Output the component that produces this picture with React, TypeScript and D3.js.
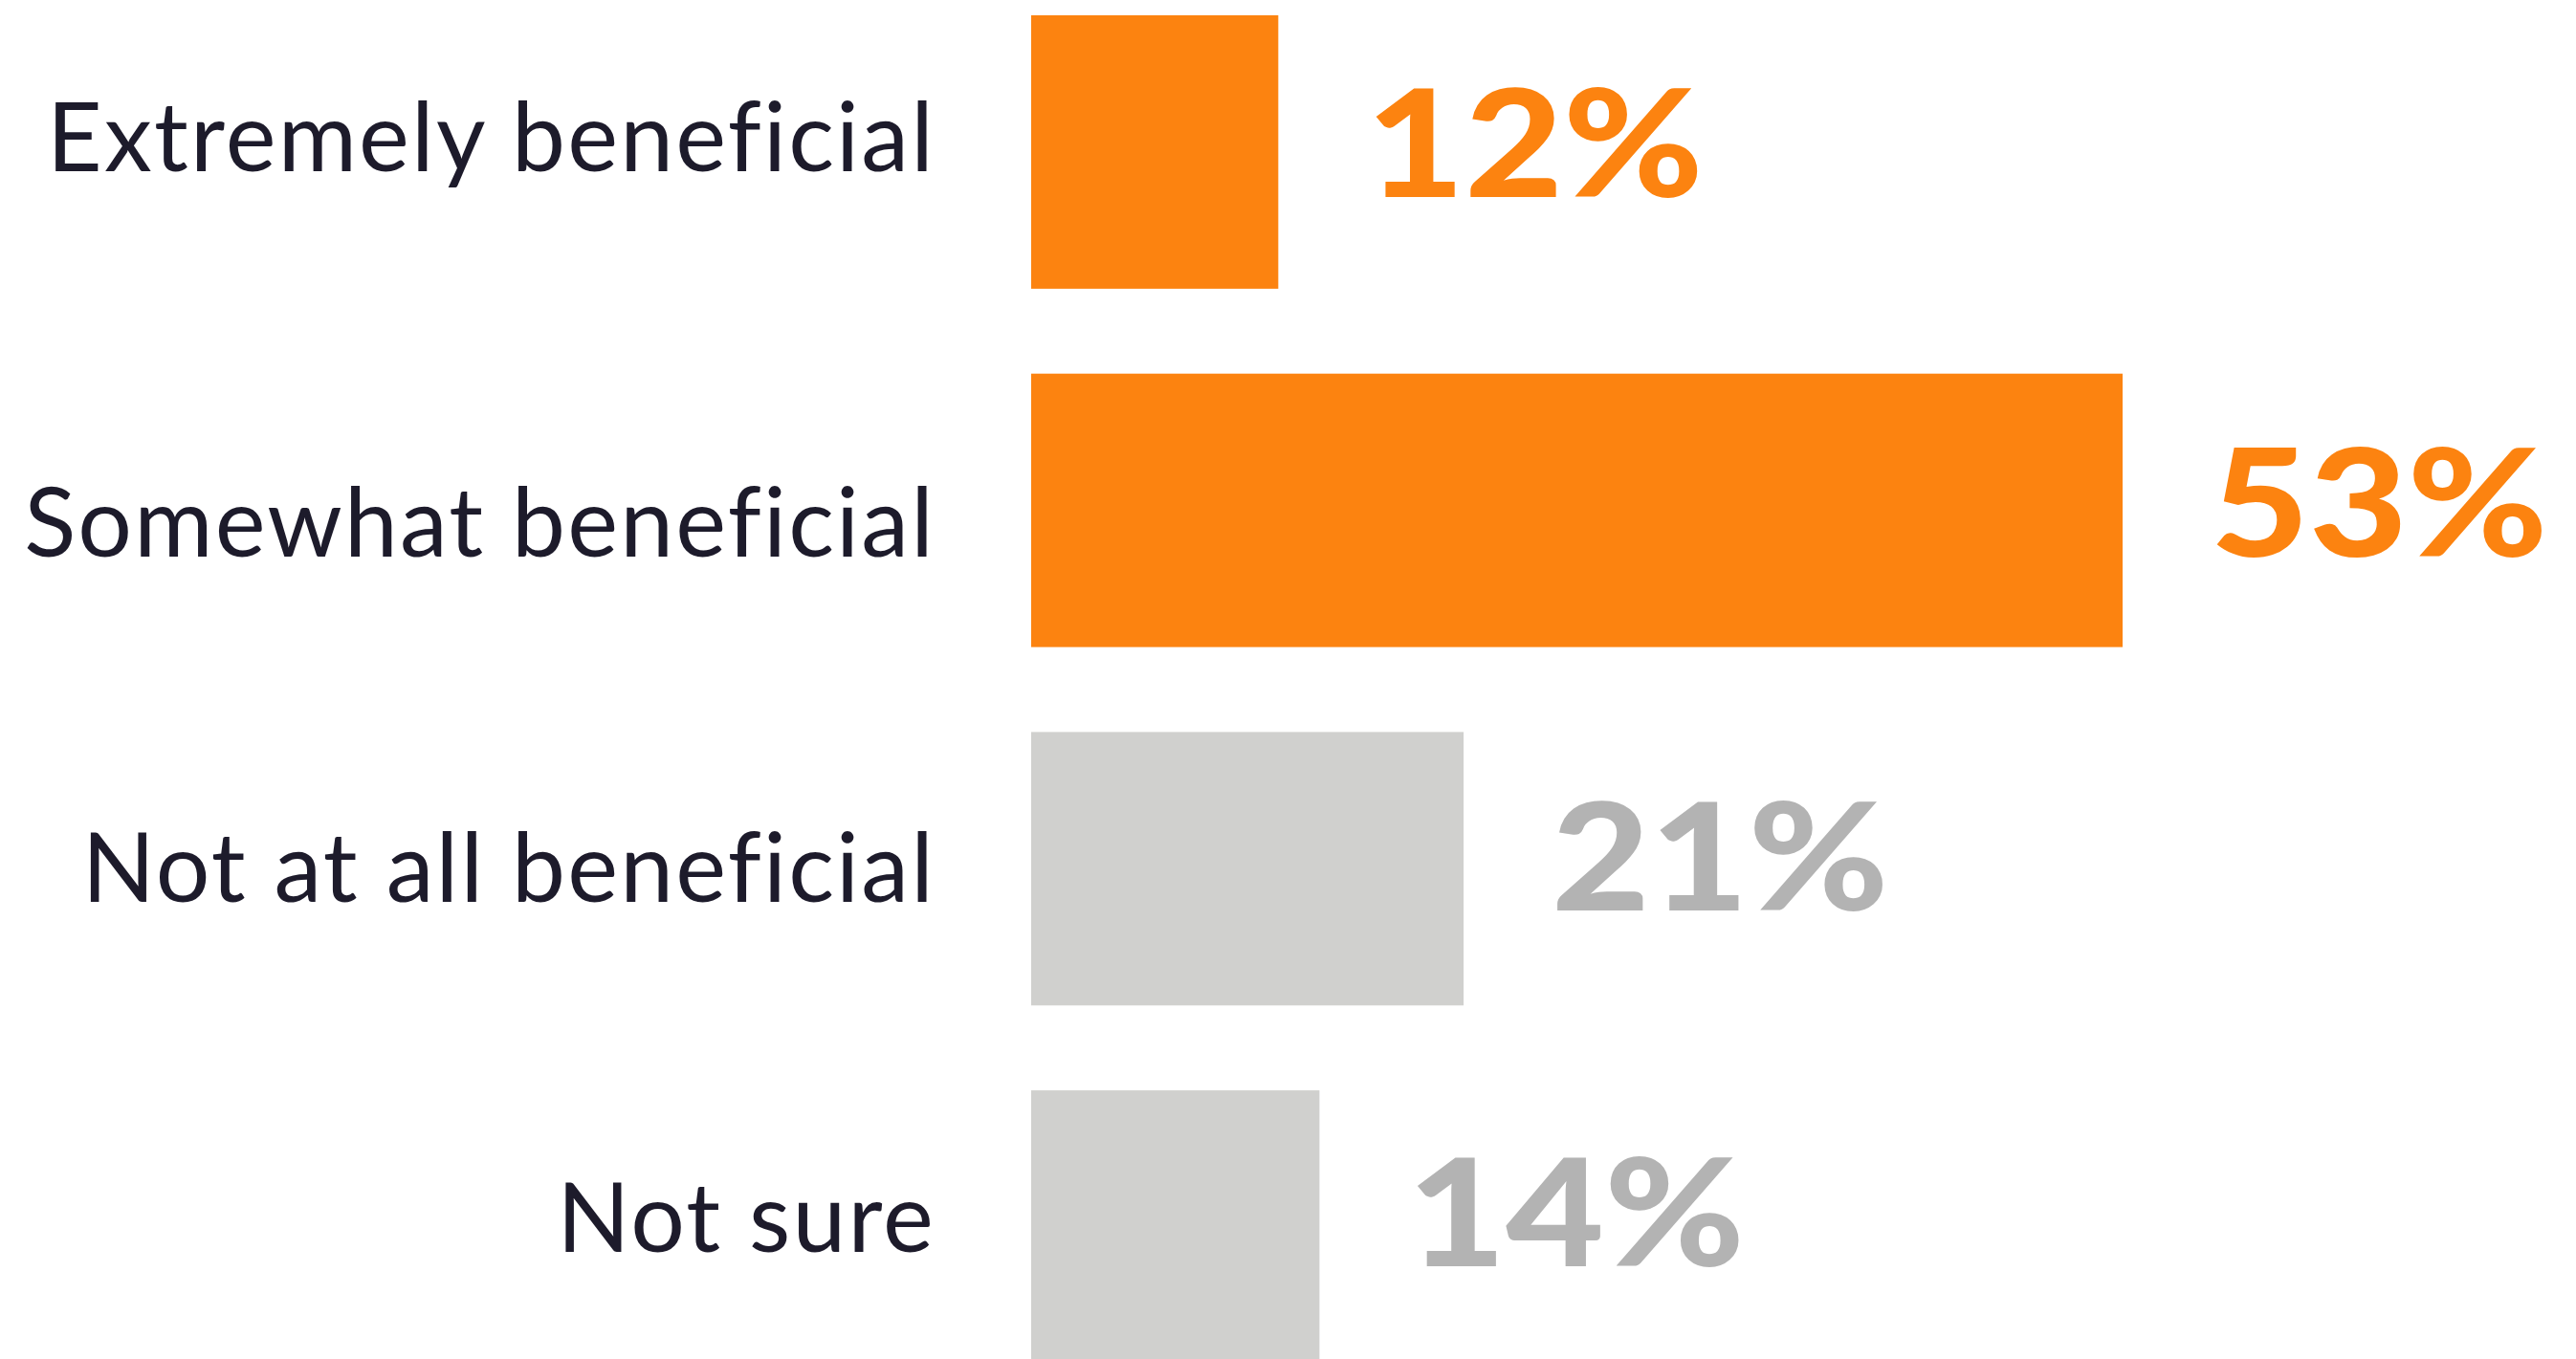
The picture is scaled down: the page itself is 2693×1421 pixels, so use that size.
import React from "react";
import * as d3 from "d3";

const categories = [
  "Extremely beneficial",
  "Somewhat beneficial",
  "Not at all beneficial",
  "Not sure",
];
const values = [12, 53, 21, 14];
const highlighted = [true, true, false, false];

const W = 2693;
const H = 1421;
const ORANGE = "#FC8310";
const GREY_BAR = "#D0D0CE";
const GREY_TEXT = "#B3B3B3";
const DARK = "#1D1B2B";
// small vertical nudges matching the original's label placement
const LABEL_NUDGE = [-16, 12, -1, -10];
const VALUE_NUDGE = [-9, -8, -12, -15];

export default function App() {
  const x = d3.scaleLinear().domain([0, 53]).range([1078, 2219]);
  const y = d3
    .scaleBand<string>()
    .domain(categories)
    .range([16, 1426])
    .paddingInner(0.237)
    .paddingOuter(0);

  return (
    <svg
      width={W}
      height={H}
      style={{ position: "absolute", left: 0, top: 0, background: "#fff" }}
    >
      {categories.map((c, i) => {
        const y0 = y(c)!;
        const bw = y.bandwidth();
        const cy = y0 + bw / 2;
        const fill = highlighted[i] ? ORANGE : GREY_BAR;
        const tfill = highlighted[i] ? ORANGE : GREY_TEXT;
        return (
          <g key={c}>
            <rect x={x(0)} y={y0} width={x(values[i]) - x(0)} height={bw} fill={fill} />
            <text
              x={978}
              y={cy + 36 + LABEL_NUDGE[i]}
              textAnchor="end"
              fontFamily="Lato, sans-serif"
              fontSize={100}
              letterSpacing={2.2}
              fill={DARK}
            >
              {c}
            </text>
            <text
              transform={`translate(${x(values[i]) + 92},${cy + 56 + VALUE_NUDGE[i]}) scale(1.13,1)`}
              fontFamily="Lato, sans-serif"
              fontWeight={900}
              fontSize={157}
              fill={tfill}
            >
              {d3.format("d")(values[i]) + "%"}
            </text>
          </g>
        );
      })}
    </svg>
  );
}
